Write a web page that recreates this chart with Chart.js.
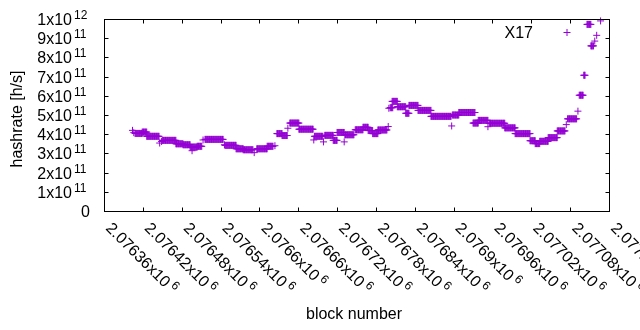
<!DOCTYPE html>
<html><head><meta charset="utf-8">
<script src="https://cdn.jsdelivr.net/npm/chart.js@4.4.0/dist/chart.umd.min.js"></script>
<style>html,body{margin:0;padding:0;background:#fff;}canvas{display:block;}</style>
</head><body>
<canvas id="c" width="640" height="330"></canvas>
<script>
// ---- data (runs of consecutive blocks sharing the same hashrate estimate) ----
const segFirstBlock = [2076404,2076406,2076408,2076419,2076426,2076446,2076449,2076450,2076471,2076482,2076493,2076496,2076504,2076513,2076516,2076546,2076547,2076564,2076575,2076592,2076596,2076612,2076624,2076627,2076635,2076644,2076647,2076661,2076684,2076685,2076699,2076701,2076714,2076720,2076731,2076732,2076748,2076760,2076768,2076775,2076783,2076799,2076800,2076802,2076805,2076813,2076826,2076831,2076845,2076865,2076897,2076898,2076908,2076930,2076938,2076953,2076955,2076979,2076995,2077018,2077026,2077033,2077046,2077060,2077074,2077076,2077092,2077094,2077101,2077106,2077112,2077118,2077121,2077127];
const segLastBlock  = [2076404,2076406,2076419,2076426,2076445,2076446,2076449,2076471,2076482,2076493,2076504,2076496,2076511,2076513,2076544,2076546,2076564,2076575,2076590,2076592,2076612,2076621,2076624,2076635,2076643,2076644,2076661,2076683,2076684,2076698,2076699,2076714,2076720,2076731,2076731,2076746,2076760,2076768,2076775,2076783,2076797,2076799,2076800,2076806,2076813,2076826,2076831,2076845,2076865,2076896,2076897,2076908,2076933,2076938,2076953,2076953,2076979,2076995,2077018,2077026,2077033,2077046,2077060,2077072,2077074,2077090,2077092,2077100,2077103,2077112,2077116,2077118,2077121,2077127];
const segHashrate   = [4.20e11,4.08e11,4.04e11,4.11e11,3.89e11,3.54e11,3.62e11,3.68e11,3.50e11,3.45e11,3.33e11,3.14e11,3.37e11,3.70e11,3.73e11,3.45e11,3.42e11,3.24e11,3.19e11,3.04e11,3.24e11,3.37e11,3.40e11,4.03e11,3.93e11,4.31e11,4.58e11,4.26e11,3.70e11,3.89e11,3.60e11,3.94e11,3.68e11,4.09e11,3.60e11,3.97e11,4.23e11,4.36e11,4.19e11,4.03e11,4.22e11,4.40e11,5.35e11,5.38e11,5.71e11,5.43e11,5.09e11,5.50e11,5.24e11,4.93e11,4.43e11,5.00e11,5.13e11,4.58e11,4.72e11,4.39e11,4.57e11,4.33e11,4.03e11,3.66e11,3.51e11,3.63e11,3.82e11,4.17e11,4.50e11,4.80e11,5.20e11,6.03e11,7.07e11,9.72e11,8.60e11,8.85e11,9.15e11,9.90e11];
const seriesName = 'X17';
const xMin = 2076360, xMax = 2077140, xStep = 60;
const yMin = 0, yMax = 1e12, yStep = 1e11;
const xTickMantissa = ['2.07636','2.07642','2.07648','2.07654','2.0766','2.07666','2.07672','2.07678','2.07684','2.0769','2.07696','2.07702','2.07708','2.07714'];
const xTickExponent = '6';
const yTickMantissa = ['0','1','2','3','4','5','6','7','8','9','1'];
const yTickExponent = ['','11','11','11','11','11','11','11','11','11','12'];
const xTitle = 'block number';
const yTitle = 'hashrate [h/s]';

// ---- build point table ----
const points = [];
segFirstBlock.forEach((f, i) => {
  for (let b = f; b <= segLastBlock[i]; b++) points.push({x: b, y: segHashrate[i]});
});

const COLOR = '#9400D3';
const FONT = '"Liberation Sans", Arial, sans-serif';

const gnuplotFrame = {
  id: 'gnuplotFrame',
  afterDraw(chart) {
    const ctx = chart.ctx, a = chart.chartArea, xs = chart.scales.x, ys = chart.scales.y;
    ctx.save();
    const L = Math.round(a.left) + 0.5, R = Math.round(a.right) + 0.5;
    const T = Math.round(a.top) + 0.5, B = Math.round(a.bottom) + 0.5;
    ctx.strokeStyle = '#000'; ctx.lineWidth = 1;
    ctx.beginPath();
    ys.ticks.forEach(t => {
      const p = Math.round(ys.getPixelForValue(t.value)) + 0.5;
      ctx.moveTo(L, p); ctx.lineTo(L + 4, p);
      ctx.moveTo(R, p); ctx.lineTo(R - 4, p);
    });
    xs.ticks.forEach(t => {
      const p = Math.round(xs.getPixelForValue(t.value)) + 0.5;
      ctx.moveTo(p, B); ctx.lineTo(p, B - 4);
      ctx.moveTo(p, T); ctx.lineTo(p, T + 4);
    });
    ctx.stroke();
    ctx.strokeRect(L, T, R - L, B - T);

    ctx.fillStyle = '#000';
    // y tick labels
    ys.ticks.forEach((t, i) => {
      const py = ys.getPixelForValue(t.value);
      ctx.textBaseline = 'alphabetic';
      if (!yTickExponent[i]) {
        ctx.font = '16px ' + FONT; ctx.textAlign = 'right';
        ctx.fillText(yTickMantissa[i], 90, py + 6);
      } else {
        ctx.font = '16px ' + FONT; ctx.textAlign = 'right';
        ctx.fillText(yTickMantissa[i] + 'x10', 72, py + 6);
        ctx.font = '12px ' + FONT; ctx.textAlign = 'left';
        ctx.fillText(yTickExponent[i], 74, py);
      }
    });
    // x tick labels, rotated
    xs.ticks.forEach((t, i) => {
      const px = xs.getPixelForValue(t.value);
      ctx.save();
      ctx.translate(px + 1, 229);
      ctx.rotate(Math.PI / 4);
      ctx.textAlign = 'left'; ctx.textBaseline = 'alphabetic';
      ctx.font = '16px ' + FONT;
      const base = xTickMantissa[i] + 'x10';
      ctx.fillText(base, 0, 0);
      const w = ctx.measureText(base).width;
      ctx.font = '12px ' + FONT;
      ctx.fillText(xTickExponent, w + 3, -6);
      ctx.restore();
    });
    // axis titles
    ctx.font = '16px ' + FONT;
    ctx.textAlign = 'center'; ctx.textBaseline = 'middle';
    ctx.fillText(xTitle, 354, 315);
    ctx.save();
    ctx.translate(18, 119);
    ctx.rotate(-Math.PI / 2);
    ctx.fillText(yTitle, 0, 0);
    ctx.restore();
    // key
    ctx.textAlign = 'right'; ctx.textBaseline = 'alphabetic';
    ctx.fillText(seriesName, 533, 38);
    ctx.strokeStyle = COLOR;
    ctx.beginPath();
    ctx.moveTo(563.5, 32.5); ctx.lineTo(570.5, 32.5);
    ctx.moveTo(567, 29); ctx.lineTo(567, 36);
    ctx.stroke();
    ctx.restore();
  }
};

new Chart(document.getElementById('c'), {
  type: 'scatter',
  data: {
    datasets: [{
      label: seriesName,
      data: points,
      pointStyle: 'cross',
      pointRadius: 3.5,
      pointHoverRadius: 3.5,
      borderColor: COLOR,
      backgroundColor: COLOR,
      borderWidth: 1,
      showLine: false,
      clip: false
    }]
  },
  options: {
    responsive: false,
    animation: false,
    devicePixelRatio: 1,
    layout: { padding: { left: 0, right: 31, top: 19, bottom: 0 } },
    plugins: { legend: { display: false }, tooltip: { enabled: false } },
    scales: {
      x: {
        type: 'linear', min: xMin, max: xMax,
        ticks: { stepSize: xStep, display: false },
        grid: { display: false }, border: { display: false },
        afterFit: s => { s.height = 119; }
      },
      y: {
        type: 'linear', min: yMin, max: yMax,
        ticks: { stepSize: yStep, display: false },
        grid: { display: false }, border: { display: false },
        afterFit: s => { s.width = 104; }
      }
    }
  },
  plugins: [gnuplotFrame]
});
</script>
</body></html>
